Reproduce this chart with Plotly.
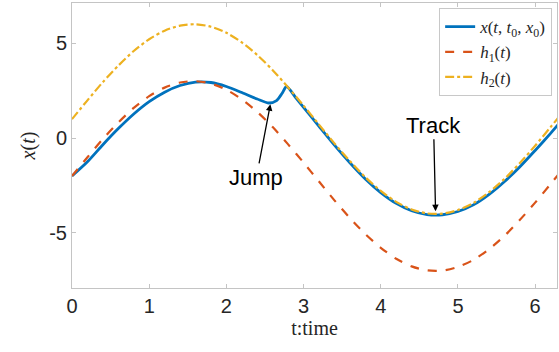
import plotly.graph_objects as go

# time grid for reference curves
t_ref = [0.0, 0.2, 0.4, 0.6, 0.8, 1.0, 1.2, 1.4, 1.6, 1.8, 2.0, 2.2, 2.4, 2.6, 2.8, 3.0,
         3.2, 3.4, 3.6, 3.8, 4.0, 4.2, 4.4, 4.6, 4.8, 5.0, 5.2, 5.4, 5.6, 5.8, 6.0, 6.2, 6.3]
h1_vals = [-2.00, -1.01, -0.05, 0.82, 1.59, 2.21, 2.66, 2.93, 3.00, 2.87, 2.55, 2.04, 1.38,
           0.58, -0.33, -1.29, -2.29, -3.28, -4.21, -5.06, -5.78, -6.36, -6.76, -6.97, -6.98,
           -6.79, -6.42, -5.86, -5.16, -4.32, -3.40, -2.42, -1.92]
h2_vals = [1.00, 1.99, 2.95, 3.82, 4.59, 5.21, 5.66, 5.93, 6.00, 5.87, 5.55, 5.04, 4.38,
           3.58, 2.67, 1.71, 0.71, -0.28, -1.21, -2.06, -2.78, -3.36, -3.76, -3.97, -3.98,
           -3.79, -3.42, -2.86, -2.16, -1.32, -0.40, 0.58, 1.08]

# trajectory x(t, t0, x0)
t_x = [0.0, 0.2, 0.4, 0.6, 0.8, 1.0, 1.2, 1.4, 1.6, 1.8, 2.0, 2.2, 2.4, 2.55, 2.65, 2.72,
       2.78, 2.9, 3.0, 3.2, 3.4, 3.6, 3.8, 4.0, 4.2, 4.4, 4.6, 4.8, 5.0, 5.2, 5.4, 5.6,
       5.8, 6.0, 6.2, 6.3]
x_vals = [-2.00, -1.25, -0.35, 0.50, 1.27, 1.92, 2.42, 2.77, 2.95, 2.93, 2.72, 2.40, 2.06,
          1.85, 1.98, 2.35, 2.72, 2.12, 1.62, 0.62, -0.37, -1.30, -2.15, -2.87, -3.44,
          -3.83, -4.03, -4.04, -3.87, -3.52, -2.98, -2.30, -1.52, -0.65, 0.25, 0.72]

x_ticks = [0, 1, 2, 3, 4, 5, 6]
y_ticks = [-5, 0, 5]

serif = "'Liberation Serif', 'Times New Roman', serif"
sans = "'Liberation Sans', Arial, sans-serif"
text_col = "#262626"
axis_col = "#c4c4c4"

fig = go.Figure()
fig.add_trace(go.Scatter(
    x=t_x, y=x_vals, mode="lines",
    line=dict(color="#0072BD", width=2.8, shape="spline", smoothing=0.7),
    name="<i>x</i>(<i>t</i>, <i>t</i><sub>0</sub>, <i>x</i><sub>0</sub>)"))
fig.add_trace(go.Scatter(
    x=t_ref, y=h1_vals, mode="lines",
    line=dict(color="#D95319", width=2.2, dash="dash", shape="spline", smoothing=0.8),
    name="<i>h</i><sub>1</sub>(<i>t</i>)"))
fig.add_trace(go.Scatter(
    x=t_ref, y=h2_vals, mode="lines",
    line=dict(color="#EDB120", width=2.2, dash="dashdot", shape="spline", smoothing=0.8),
    name="<i>h</i><sub>2</sub>(<i>t</i>)"))

fig.add_annotation(x=2.57, y=1.78, ax=-14, ay=73, text="Jump", showarrow=True,
                   arrowhead=2, arrowsize=1, arrowwidth=1.3, arrowcolor="black",
                   font=dict(family=sans, size=22, color="black"))
fig.add_annotation(x=4.71, y=-3.85, ax=-2, ay=-86, text="Track", showarrow=True,
                   arrowhead=2, arrowsize=1, arrowwidth=1.3, arrowcolor="black",
                   font=dict(family=sans, size=22, color="black"))

fig.update_layout(
    width=559, height=352,
    margin=dict(l=72, r=2, t=3, b=64),
    paper_bgcolor="white", plot_bgcolor="white",
    showlegend=True,
    legend=dict(x=0.99, y=0.982, xanchor="right", yanchor="top",
                bgcolor="white", bordercolor="#c8c8c8", borderwidth=1,
                font=dict(family=serif, size=17, color=text_col),
                itemwidth=30, tracegroupgap=0),
    xaxis=dict(range=[0, 6.2832], tickvals=x_ticks, ticktext=[str(v) for v in x_ticks],
               showgrid=False, zeroline=False, showline=True, linecolor=axis_col,
               linewidth=1, mirror="ticks", ticks="inside", ticklen=4, tickcolor=axis_col,
               tickfont=dict(family=sans, size=20, color=text_col),
               title=dict(text="t:time", font=dict(family=serif, size=20, color=text_col),
                          standoff=2)),
    yaxis=dict(range=[-7.9, 7.12], tickvals=y_ticks, ticktext=[str(v) for v in y_ticks],
               showgrid=False, zeroline=False, showline=True, linecolor=axis_col,
               linewidth=1, mirror="ticks", ticks="inside", ticklen=4, tickcolor=axis_col,
               tickfont=dict(family=sans, size=20, color=text_col),
               title=dict(text="<i>x</i>(<i>t</i>)",
                          font=dict(family=serif, size=20, color=text_col), standoff=8)),
)

fig.write_html("out.html")
